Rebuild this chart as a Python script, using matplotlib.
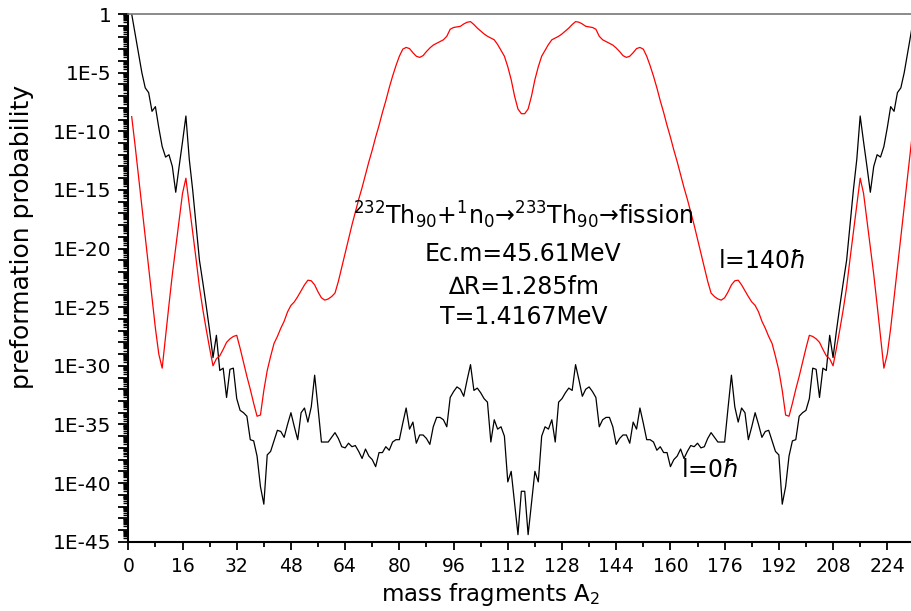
import numpy as np
import matplotlib
matplotlib.use("Agg")
import matplotlib.pyplot as plt
from matplotlib.ticker import FixedLocator, FuncFormatter, MultipleLocator, LogLocator, NullFormatter

# mass fragment A2 (compound nucleus 233Th, A2 = 1 .. 232)
mass = list(range(1, 233))

# log10 of the preformation probability
# l = 0 hbar (black curve)
log_p_l0 = [
    0.0, -1.65, -3.3, -5.0, -6.3, -6.7, -8.3, -7.9, -9.7, -11.3,
    -12.2, -12.0, -13.0, -15.2, -13.0, -10.9, -8.7, -12.4, -15.0, -18.0,
    -21.0, -22.9, -24.9, -27.0, -29.3, -27.4, -30.4, -30.2, -32.7, -30.3,
    -30.2, -32.8, -33.8, -34.0, -34.3, -36.3, -36.4, -37.7, -40.3, -41.8,
    -37.6, -37.3, -36.4, -35.5, -35.6, -36.1, -35.0, -34.0, -35.2, -36.3,
    -34.0, -33.6, -34.8, -33.5, -30.8, -33.6, -36.5, -36.5, -36.5, -36.1,
    -35.7, -36.2, -36.9, -37.0, -36.6, -36.9, -36.8, -37.3, -37.9, -37.1,
    -37.7, -38.0, -38.6, -37.4, -37.4, -36.9, -37.2, -36.5, -36.3, -36.3,
    -34.9, -33.6, -35.4, -34.8, -36.6, -35.9, -35.9, -36.2, -36.7, -35.2,
    -34.4, -34.4, -34.6, -35.2, -32.7, -32.2, -31.8, -32.0, -32.6, -31.2,
    -29.9, -32.1, -31.9, -32.3, -32.8, -33.1, -36.5, -34.6, -35.4, -35.2,
    -36.0, -39.9, -39.0, -41.7, -44.4, -40.7,
    -40.7, -44.4, -41.7, -39.0, -39.9, -36.0,
    -35.2, -35.4, -34.6, -36.5, -33.1, -32.8, -32.3, -31.9, -32.1, -29.9,
    -31.2, -32.6, -32.0, -31.8, -32.2, -32.7, -35.2, -34.6, -34.4, -34.4,
    -35.2, -36.7, -36.2, -35.9, -35.9, -36.6, -34.8, -35.4, -33.6, -34.9,
    -36.3, -36.3, -36.5, -37.2, -36.9, -37.4, -37.4, -38.6, -38.0, -37.7,
    -37.1, -37.9, -37.3, -36.8, -36.9, -36.6, -37.0, -36.9, -36.2, -35.7,
    -36.1, -36.5, -36.5, -36.5, -33.6, -30.8, -33.5, -34.8, -33.6, -34.0,
    -36.3, -35.2, -34.0, -35.0, -36.1, -35.6, -35.5, -36.4, -37.3, -37.6,
    -41.8, -40.3, -37.7, -36.4, -36.3, -34.3, -34.0, -33.8, -32.8, -30.2,
    -30.3, -32.7, -30.2, -30.4, -27.4, -29.3, -27.0, -24.9, -22.9, -21.0,
    -18.0, -15.0, -12.4, -8.7, -10.9, -13.0, -15.2, -13.0, -12.0, -12.2,
    -11.3, -9.7, -7.9, -8.3, -6.7, -6.3, -5.0, -3.3, -1.65, 0.0,
]

# l = 140 hbar (red curve)
log_p_l140 = [
    -8.75, -11.2, -13.8, -16.4, -19.0, -21.6, -24.2, -26.8, -29.0, -30.2,
    -27.5, -24.8, -22.2, -19.9, -17.6, -15.3, -14.0, -16.3, -18.6, -20.9,
    -23.3, -25.2, -26.9, -28.5, -30.0, -29.4, -29.15, -28.6, -28.0, -27.7,
    -27.5, -27.4, -28.5, -29.7, -30.9, -32.0, -33.2, -34.3, -34.2, -32.1,
    -30.4, -29.2, -28.1, -27.5, -26.8, -26.2, -25.4, -24.85, -24.55, -24.1,
    -23.6, -23.1, -22.7, -22.75, -23.1, -23.7, -24.2, -24.4, -24.3, -24.1,
    -23.8, -22.8, -21.6, -20.4, -19.2, -18.0, -16.9, -15.8, -14.8, -13.7,
    -12.6, -11.6, -10.5, -9.5, -8.4, -7.4, -6.3, -5.3, -4.4, -3.6,
    -3.0, -2.85, -2.95, -3.3, -3.6, -3.7, -3.55, -3.2, -2.9, -2.65,
    -2.5, -2.35, -2.2, -1.9, -1.3, -1.15, -1.1, -1.05, -0.85, -0.7,
    -0.65, -0.9, -1.2, -1.45, -1.7, -1.9, -2.05, -2.2, -2.6, -3.1,
    -3.6, -4.5, -5.6, -7.0, -8.1, -8.5,
    -8.5, -8.1, -7.0, -5.6, -4.5, -3.6,
    -3.1, -2.6, -2.2, -2.05, -1.9, -1.7, -1.45, -1.2, -0.9, -0.65,
    -0.7, -0.85, -1.05, -1.1, -1.15, -1.3, -1.9, -2.2, -2.35, -2.5,
    -2.65, -2.9, -3.2, -3.55, -3.7, -3.6, -3.3, -2.95, -2.85, -3.0,
    -3.6, -4.4, -5.3, -6.3, -7.4, -8.4, -9.5, -10.5, -11.6, -12.6,
    -13.7, -14.8, -15.8, -16.9, -18.0, -19.2, -20.4, -21.6, -22.8, -23.8,
    -24.1, -24.3, -24.4, -24.2, -23.7, -23.1, -22.75, -22.7, -23.1, -23.6,
    -24.1, -24.55, -24.85, -25.4, -26.2, -26.8, -27.5, -28.1, -29.2, -30.4,
    -32.1, -34.2, -34.3, -33.2, -32.0, -30.9, -29.7, -28.5, -27.4, -27.5,
    -27.7, -28.0, -28.6, -29.15, -29.4, -30.0, -28.5, -26.9, -25.2, -23.3,
    -20.9, -18.6, -16.3, -14.0, -15.3, -17.6, -19.9, -22.2, -24.8, -27.5,
    -30.2, -29.0, -26.8, -24.2, -21.6, -19.0, -16.4, -13.8, -11.2, -8.75,
]

x_ticks = list(range(0, 225, 16))
y_decades = list(range(0, -46, -1))

plt.rcParams['font.family'] = ['DejaVu Sans']
plt.rcParams['mathtext.fontset'] = 'dejavusans'

fig = plt.figure(figsize=(9.11, 6.11), dpi=100)
ax = fig.add_axes([128.3 / 911, (611 - 541.7) / 611, (911 - 128.3) / 911, (541.7 - 14) / 611])

ax.plot(mass, 10.0 ** np.array(log_p_l0), color='black', lw=0.9)
ax.plot(mass, 10.0 ** np.array(log_p_l140), color='red', lw=0.9)

ax.set_yscale('log')
ax.set_ylim(1e-45, 1)
ax.set_xlim(0, 231)

# y ticks: every decade, label every fifth
ax.yaxis.set_major_locator(FixedLocator([10.0 ** k for k in y_decades]))
def ylab(v, pos):
    k = int(round(np.log10(v)))
    if k == 0:
        return '1'
    if k % 5 == 0:
        return '1E%d' % k
    return ''
ax.yaxis.set_major_formatter(FuncFormatter(ylab))
ax.yaxis.set_minor_locator(LogLocator(base=10, subs=np.arange(2, 10), numticks=1000))
ax.yaxis.set_minor_formatter(NullFormatter())

ax.xaxis.set_major_locator(FixedLocator(x_ticks))
ax.xaxis.set_minor_locator(MultipleLocator(8))

ax.tick_params(axis='y', which='major', direction='out', length=7, width=1.3, labelsize=14.5, pad=5)
ax.tick_params(axis='y', which='minor', direction='out', length=3.6, width=1.0)
ax.tick_params(axis='x', which='major', direction='out', length=5.8, width=1.3, labelsize=13.5, pad=5)
ax.tick_params(axis='x', which='minor', direction='out', length=3.5, width=1.3)

for s in ['left', 'bottom']:
    ax.spines[s].set_linewidth(1.5)
ax.spines['top'].set_color('#777777')
ax.spines['top'].set_linewidth(1.2)
ax.spines['right'].set_visible(False)

ax.set_xlabel('mass fragments A$_2$', fontsize=16.5)
ax.xaxis.set_label_coords(0.462, -0.074)
ax.set_ylabel('preformation probability', fontsize=18)
ax.yaxis.set_label_coords(-0.12, 0.577)

txt = dict(ha='center', va='center', fontsize=17)
ax.text(116.6, 10.0 ** -17.13, r'$^{232}$Th$_{90}$+$^{1}$n$_{0}$→$^{233}$Th$_{90}$→fission', **txt)
ax.text(116.6, 10.0 ** -20.45, 'Ec.m=45.61MeV', **txt)
ax.text(116.6, 10.0 ** -23.27, '∆R=1.285fm', **txt)
ax.text(116.6, 10.0 ** -25.82, 'T=1.4167MeV', **txt)
ax.text(187.0, 10.0 ** -21.05, r'l=140$\hbar$', **txt)
ax.text(171.6, 10.0 ** -38.9, r'l=0$\hbar$', **txt)

fig.savefig('out.png', dpi=100)
